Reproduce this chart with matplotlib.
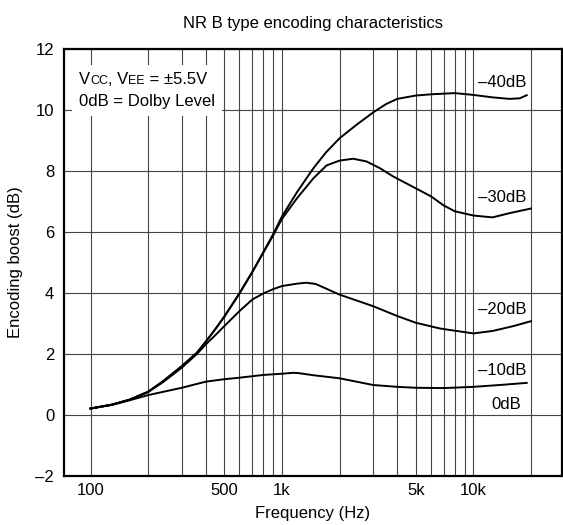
import matplotlib
matplotlib.use("Agg")
import matplotlib.pyplot as plt
from matplotlib.ticker import FixedLocator, NullLocator
from matplotlib.offsetbox import TextArea, HPacker, VPacker, AnchoredOffsetbox

plt.rcParams["font.family"] = ["Liberation Sans", "DejaVu Sans"]

# values (Hz, dB)
freq_m40 = [100, 130, 160, 200, 240, 300, 360, 400, 450, 500, 600, 700, 800, 900,
            1000, 1200, 1460, 1700, 2000, 2450, 3000, 3500, 4000, 5000, 6000, 8000,
            10000, 12600, 15500, 17500, 19000]
boost_m40 = [0.21, 0.34, 0.5, 0.76, 1.11, 1.6, 2.04, 2.4, 2.82, 3.22, 3.98, 4.68, 5.33, 5.92,
             6.5, 7.3, 8.08, 8.6, 9.06, 9.5, 9.91, 10.18, 10.35, 10.46, 10.5, 10.54,
             10.48, 10.4, 10.35, 10.37, 10.47]

freq_m30 = [100, 130, 160, 200, 240, 300, 360, 400, 450, 500, 600, 700, 800, 900,
            1000, 1200, 1460, 1710, 2000, 2360, 2770, 3250, 3810, 4670, 6000, 7000,
            8000, 10000, 12600, 15500, 20000]
boost_m30 = [0.21, 0.34, 0.5, 0.76, 1.11, 1.6, 2.04, 2.4, 2.82, 3.22, 3.98, 4.68, 5.32, 5.88,
             6.42, 7.1, 7.75, 8.17, 8.33, 8.39, 8.3, 8.08, 7.81, 7.52, 7.16, 6.86,
             6.67, 6.53, 6.47, 6.61, 6.76]

freq_m20 = [100, 130, 160, 200, 240, 300, 360, 400, 450, 500, 600, 700, 800, 900,
            1000, 1200, 1340, 1500, 2000, 3000, 4000, 5000, 6700, 10000, 12600, 16200, 20000]
boost_m20 = [0.21, 0.34, 0.5, 0.75, 1.08, 1.55, 2.0, 2.31, 2.62, 2.91, 3.4, 3.78, 3.98, 4.12,
             4.22, 4.3, 4.33, 4.29, 3.94, 3.56, 3.24, 3.02, 2.83, 2.67, 2.75, 2.91, 3.07]

freq_m10 = [100, 130, 160, 200, 300, 400, 500, 600, 800, 1000, 1150, 1220, 1460,
            2000, 2450, 3000, 4000, 5000, 7000, 10000, 13700, 19000]
boost_m10 = [0.21, 0.33, 0.48, 0.65, 0.89, 1.09, 1.17, 1.22, 1.31, 1.35, 1.38, 1.37, 1.3,
             1.2, 1.09, 0.98, 0.92, 0.89, 0.88, 0.92, 0.98, 1.05]

curve_labels = ["\u201340dB", "\u201330dB", "\u201320dB", "\u201310dB", "0dB"]
label_x = [14200, 14200, 14200, 14200, 14900]
label_y = [10.9, 7.12, 3.46, 1.47, 0.35]

x_ticks = [100, 500, 1000, 5000, 10000]
x_ticklabels = ["100", "500", "1k", "5k", "10k"]
x_grid = [100, 200, 300, 400, 500, 600, 700, 800, 900, 1000,
          2000, 3000, 4000, 5000, 6000, 7000, 8000, 9000, 10000, 20000]
y_ticks = [-2, 0, 2, 4, 6, 8, 10, 12]

fs = 12

fig = plt.figure(figsize=(5.63, 5.25), dpi=100)
ax = fig.add_axes([0.1135, 0.0933, 0.8845, 0.8143])

ax.set_xscale("log")
ax.set_xlim(72.6, 29000)
ax.set_ylim(-2, 12)

for f in x_grid:
    ax.axvline(f, color="#444444", lw=0.8, zorder=1)
for y in y_ticks:
    ax.axhline(y, color="#444444", lw=0.8, zorder=1)

for fr, vals in [(freq_m40, boost_m40), (freq_m30, boost_m30),
                 (freq_m20, boost_m20), (freq_m10, boost_m10)]:
    ax.plot(fr, vals, color="black", lw=1.4, zorder=3, solid_joinstyle="round")

for lab, xx, yy in zip(curve_labels, label_x, label_y):
    ax.text(xx, yy, lab, ha="center", va="center", fontsize=fs, zorder=4)

ax.xaxis.set_major_locator(FixedLocator(x_ticks))
ax.xaxis.set_minor_locator(NullLocator())
ax.set_xticklabels(x_ticklabels)
ax.set_yticks(y_ticks)
ax.set_yticklabels([str(v).replace("-", "\u2013") for v in y_ticks])
ax.tick_params(length=0, labelsize=fs)
ax.tick_params(axis="x", pad=5)
ax.tick_params(axis="y", pad=7)

for sp in ax.spines.values():
    sp.set_linewidth(1.6)
    sp.set_zorder(5)

ax.set_title("NR B type encoding characteristics", fontsize=fs, pad=15)
ax.set_xlabel("Frequency (Hz)", fontsize=fs, labelpad=6)
ax.set_ylabel("Encoding boost (dB)", fontsize=fs, labelpad=9)

# condition box, with the small-caps CC / EE
small = 9
line1 = HPacker(children=[TextArea("V", textprops=dict(size=fs)),
                          TextArea("CC", textprops=dict(size=small)),
                          TextArea(", V", textprops=dict(size=fs)),
                          TextArea("EE", textprops=dict(size=small)),
                          TextArea(" = \u00b15.5V", textprops=dict(size=fs))],
                align="baseline", pad=0, sep=0)
line2 = TextArea("0dB = Dolby Level", textprops=dict(size=fs))
box = VPacker(children=[line1, line2], align="left", pad=0, sep=5)
anchored = AnchoredOffsetbox(loc="upper left", child=box, pad=0.5, borderpad=0,
                             frameon=True, bbox_to_anchor=(0.016, 0.962),
                             bbox_transform=ax.transAxes)
anchored.patch.set_facecolor("white")
anchored.patch.set_edgecolor("none")
anchored.set_zorder(4)
ax.add_artist(anchored)

fig.savefig("out.png", dpi=100)
